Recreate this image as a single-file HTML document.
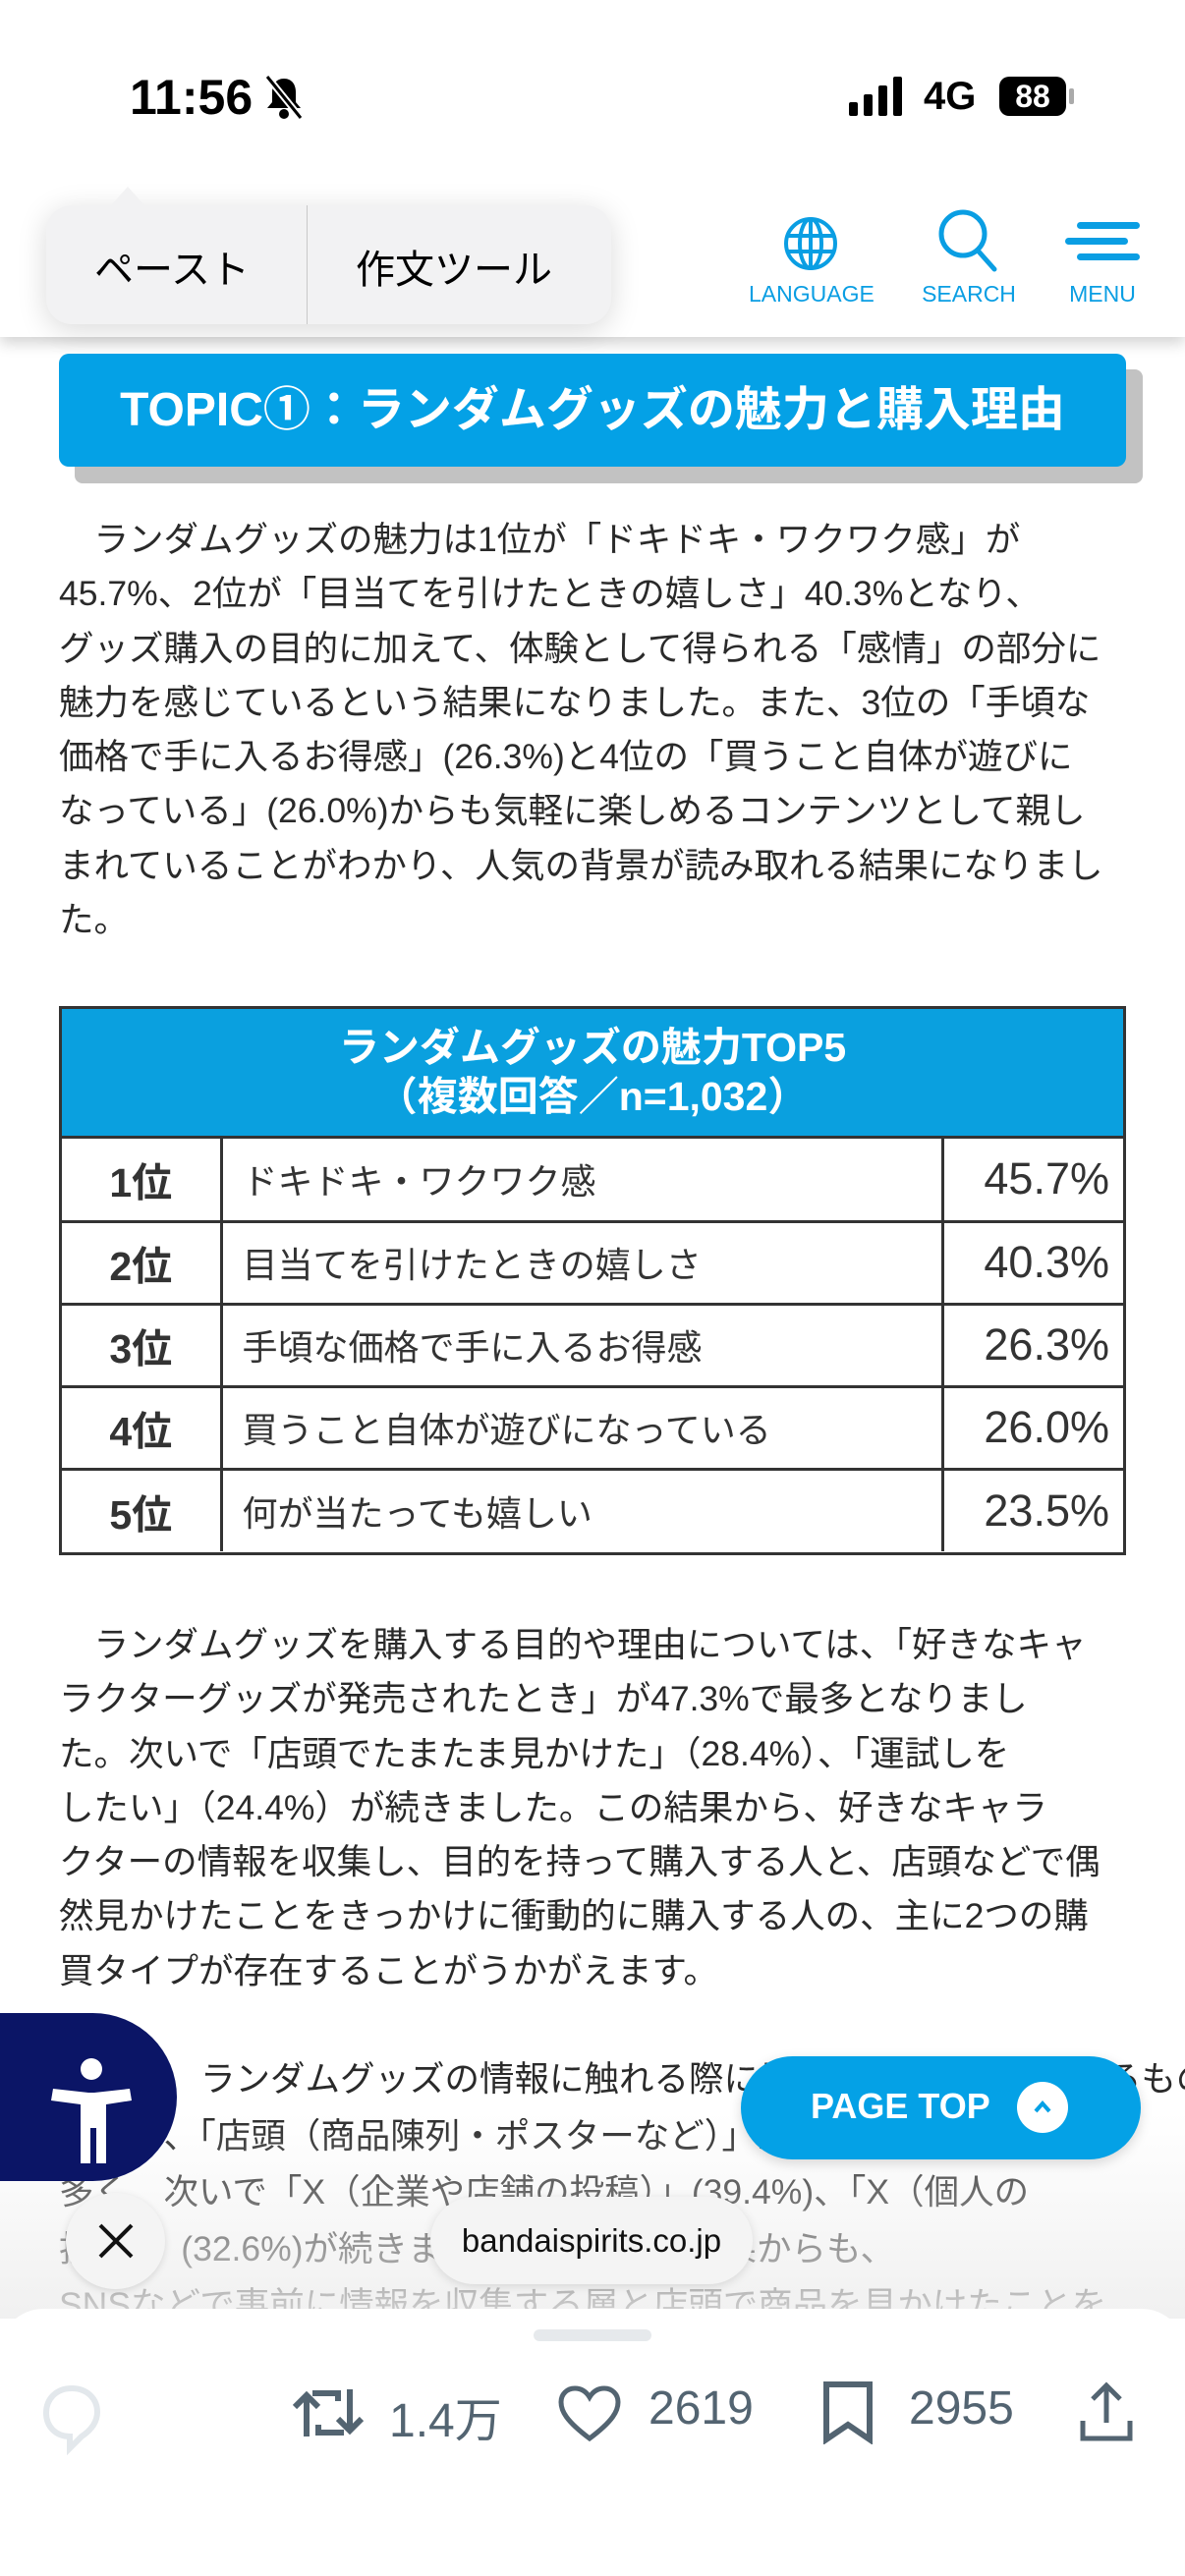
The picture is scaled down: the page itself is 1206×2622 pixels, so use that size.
<!DOCTYPE html>
<html><head><meta charset="utf-8"><style>
*{margin:0;padding:0;box-sizing:border-box}
body{width:1206px;height:2622px;position:relative;overflow:hidden;background:#fff;font-family:"Liberation Sans","Noto Sans CJK JP",sans-serif;color:#222}
.a{position:absolute}
.p{position:absolute;left:60px;font-size:35.5px;line-height:55.3px;color:#2a2a2a;white-space:nowrap}
table{border-collapse:collapse}
</style></head><body>
<!-- header -->
<div class="a" style="left:0;top:0;width:1206px;height:343px;background:#fff;box-shadow:0 6px 14px rgba(0,0,0,0.18)"></div>
<div class="a" style="left:132px;top:70px;font-size:50px;font-weight:bold;color:#000">11:56</div>
<svg class="a" style="left:268px;top:76px" width="42" height="46" viewBox="0 0 42 46"><path d="M21 4c-8 0-12 6-12 14v10l-5 6h34l-5-6V18c0-8-4-14-12-14z" fill="#000"/><circle cx="21" cy="40" r="5" fill="#000"/><line x1="4" y1="2" x2="38" y2="44" stroke="#fff" stroke-width="7"/><line x1="4" y1="2" x2="38" y2="44" stroke="#000" stroke-width="3"/></svg>
<svg class="a" style="left:864px;top:78px" width="60" height="40"><rect x="0" y="26" width="9" height="14" rx="2"/><rect x="15" y="18" width="9" height="22" rx="2"/><rect x="30" y="9" width="9" height="31" rx="2"/><rect x="45" y="0" width="9" height="40" rx="2"/></svg>
<div class="a" style="left:940px;top:76px;font-size:40px;font-weight:bold;color:#000">4G</div>
<div class="a" style="left:1017px;top:78px;width:68px;height:40px;background:#000;border-radius:10px;color:#fff;font-size:32px;font-weight:bold;text-align:center;line-height:40px">88</div>
<div class="a" style="left:1088px;top:90px;width:5px;height:16px;background:#aaa;border-radius:2px"></div>
<!-- popup -->
<div class="a" style="left:47px;top:209px;width:575px;height:121px;background:#f2f2f3;border-radius:26px;box-shadow:0 6px 30px rgba(0,0,0,0.15)"></div>
<div class="a" style="left:110px;top:190px;width:0;height:0;border-left:20px solid transparent;border-right:20px solid transparent;border-bottom:22px solid #f2f2f3"></div>
<div class="a" style="left:312px;top:209px;width:1px;height:121px;background:#c8c8c8"></div>
<div class="a" style="left:96px;top:242px;font-size:40px;color:#000">ペースト</div>
<div class="a" style="left:362px;top:242px;font-size:40px;color:#000">作文ツール</div>
<!-- icons -->
<svg class="a" style="left:797px;top:220px" width="56" height="56" viewBox="0 0 56 56" fill="none" stroke="#0a9ee3" stroke-width="4"><circle cx="28" cy="28" r="25"/><ellipse cx="28" cy="28" rx="11" ry="25"/><line x1="3" y1="20" x2="53" y2="20"/><line x1="3" y1="36" x2="53" y2="36"/><line x1="28" y1="3" x2="28" y2="53"/></svg>
<div class="a" style="left:762px;top:286px;font-size:23px;color:#0a9ee3;width:126px;text-align:center">LANGUAGE</div>
<svg class="a" style="left:954px;top:212px" width="64" height="66" viewBox="0 0 64 66" fill="none" stroke="#0a9ee3" stroke-width="5"><circle cx="26" cy="26" r="22"/><line x1="42" y1="44" x2="58" y2="62" stroke-linecap="round"/></svg>
<div class="a" style="left:932px;top:286px;font-size:23px;color:#0a9ee3;width:108px;text-align:center">SEARCH</div>
<svg class="a" style="left:1084px;top:226px" width="76" height="40"><rect x="12" y="0" width="64" height="7" rx="3.5" fill="#0a9ee3"/><rect x="0" y="16" width="64" height="7" rx="3.5" fill="#0a9ee3"/><rect x="12" y="32" width="64" height="7" rx="3.5" fill="#0a9ee3"/></svg>
<div class="a" style="left:1080px;top:286px;font-size:23px;color:#0a9ee3;width:84px;text-align:center">MENU</div>
<!-- topic banner -->
<div class="a" style="left:76px;top:376px;width:1087px;height:116px;background:#c2c2c2;border-radius:8px"></div>
<div class="a" style="left:60px;top:360px;width:1086px;height:115px;background:#04a1e6;border-radius:10px;color:#fff;font-size:48px;font-weight:bold;text-align:center;line-height:115px">TOPIC①：ランダムグッズの魅力と購入理由</div>
<!-- paragraph 1 -->
<div class="p" style="top:522px">　ランダムグッズの魅力は1位が「ドキドキ・ワクワク感」が<br>45.7%、2位が「目当てを引けたときの嬉しさ」40.3%となり、<br>グッズ購入の目的に加えて、体験として得られる「感情」の部分に<br>魅力を感じているという結果になりました。また、3位の「手頃な<br>価格で手に入るお得感」(26.3%)と4位の「買うこと自体が遊びに<br>なっている」(26.0%)からも気軽に楽しめるコンテンツとして親し<br>まれていることがわかり、人気の背景が読み取れる結果になりまし<br>た。</div>
<!-- table -->
<div class="a" style="left:60px;top:1024px;width:1086px;height:559px;border:3px solid #333;background:#fff">
<div style="height:132px;background:#0aa0df;color:#fff;font-weight:bold;font-size:41px;text-align:center;line-height:50px;padding-top:14px;border-bottom:3px solid #333">ランダムグッズの魅力TOP5<br>（複数回答／n=1,032）</div>
<table style="width:1080px;font-size:36px;color:#333">
<tr style="height:84px"><td style="width:162px;text-align:center;font-weight:bold;font-size:41px;border-right:3px solid #333;border-bottom:3px solid #333">1位</td><td style="padding-left:20px;border-right:3px solid #333;border-bottom:3px solid #333">ドキドキ・ワクワク感</td><td style="text-align:right;padding-right:14px;width:184px;font-size:45px;border-bottom:3px solid #333">45.7%</td></tr>
<tr style="height:84px"><td style="text-align:center;font-weight:bold;font-size:41px;border-right:3px solid #333;border-bottom:3px solid #333">2位</td><td style="padding-left:20px;border-right:3px solid #333;border-bottom:3px solid #333">目当てを引けたときの嬉しさ</td><td style="text-align:right;padding-right:14px;font-size:45px;border-bottom:3px solid #333">40.3%</td></tr>
<tr style="height:84px"><td style="text-align:center;font-weight:bold;font-size:41px;border-right:3px solid #333;border-bottom:3px solid #333">3位</td><td style="padding-left:20px;border-right:3px solid #333;border-bottom:3px solid #333">手頃な価格で手に入るお得感</td><td style="text-align:right;padding-right:14px;font-size:45px;border-bottom:3px solid #333">26.3%</td></tr>
<tr style="height:84px"><td style="text-align:center;font-weight:bold;font-size:41px;border-right:3px solid #333;border-bottom:3px solid #333">4位</td><td style="padding-left:20px;border-right:3px solid #333;border-bottom:3px solid #333">買うこと自体が遊びになっている</td><td style="text-align:right;padding-right:14px;font-size:45px;border-bottom:3px solid #333">26.0%</td></tr>
<tr style="height:84px"><td style="text-align:center;font-weight:bold;font-size:41px;border-right:3px solid #333">5位</td><td style="padding-left:20px;border-right:3px solid #333">何が当たっても嬉しい</td><td style="text-align:right;padding-right:14px;font-size:45px">23.5%</td></tr>
</table></div>
<!-- paragraph 2 -->
<div class="p" style="top:1647px">　ランダムグッズを購入する目的や理由については、「好きなキャ<br>ラクターグッズが発売されたとき」が47.3%で最多となりまし<br>た。次いで「店頭でたまたま見かけた」（28.4%）、「運試しを<br>したい」（24.4%）が続きました。この結果から、好きなキャラ<br>クターの情報を収集し、目的を持って購入する人と、店頭などで偶<br>然見かけたことをきっかけに衝動的に購入する人の、主に2つの購<br>買タイプが存在することがうかがえます。</div>
<!-- paragraph 3 -->
<div class="p" style="top:2088px;line-height:57.5px"><span style="padding-left:144px"></span>ランダムグッズの情報に触れる際に最も多く利用されているもの<br>　　は、「店頭（商品陳列・ポスターなど）」が最も多く、<br>多く、次いで「X（企業や店舗の投稿）」(39.4%)、「X（個人の<br>投稿）」(32.6%)が続きました。こうした結果からも、<br>SNSなどで事前に情報を収集する層と店頭で商品を見かけたことを</div>
<!-- fade -->
<div class="a" style="left:0;top:2150px;width:1206px;height:210px;background:linear-gradient(rgba(255,255,255,0),rgba(238,238,238,0.85))"></div>
<!-- accessibility -->
<div class="a" style="left:-40px;top:2049px;width:220px;height:171px;background:#0b1566;border-radius:0 90px 90px 0"></div>
<svg class="a" style="left:52px;top:2212px" width="1" height="1"></svg>
<svg class="a" style="left:50px;top:2094px" width="86" height="108" viewBox="0 0 86 108"><circle cx="43" cy="12" r="11" fill="#fff"/><path d="M2 44l2-12 36 4h6l36-4 2 12-26 4v60h-10V72h-6v36H32V48z" fill="#fff"/></svg>
<!-- page top -->
<div class="a" style="left:754px;top:2093px;width:407px;height:105px;background:#04a1e6;border-radius:53px;box-shadow:0 4px 12px rgba(0,0,0,0.15)"></div>
<div class="a" style="left:825px;top:2123px;font-size:36px;font-weight:bold;color:#fff">PAGE TOP</div>
<div class="a" style="left:1035px;top:2119px;width:52px;height:52px;background:#fff;border-radius:50%"></div>
<svg class="a" style="left:1049px;top:2133px" width="24" height="24"><polyline points="5,16 12,8 19,16" fill="none" stroke="#04a1e6" stroke-width="4"/></svg>
<!-- X circle -->
<div class="a" style="left:67px;top:2232px;width:101px;height:98px;background:#f4f4f4;border-radius:50%;box-shadow:0 2px 8px rgba(0,0,0,0.12)"></div>
<svg class="a" style="left:99px;top:2262px" width="38" height="38"><path d="M3 3L35 35M35 3L3 35" stroke="#111" stroke-width="4"/></svg>
<div class="a" style="left:438px;top:2236px;width:328px;height:89px;background:#f4f4f4;border-radius:45px;box-shadow:0 2px 10px rgba(0,0,0,0.12);font-size:33px;color:#111;text-align:center;line-height:89px">bandaispirits.co.jp</div>
<!-- bottom sheet -->
<div class="a" style="left:0;top:2350px;width:1206px;height:272px;background:#fff;border-radius:44px 44px 0 0"></div>
<div class="a" style="left:543px;top:2371px;width:120px;height:12px;background:#e6e9ec;border-radius:6px"></div>
<svg class="a" style="left:42px;top:2427px" width="62" height="72" viewBox="0 0 62 72"><path d="M31 4C15 4 5 15 5 29c0 14 10 24 24 24v12l12-12c9-6 16-14 16-25C57 15 47 4 31 4z" fill="none" stroke="#e3e8ec" stroke-width="6"/></svg>
<svg class="a" style="left:298px;top:2428px" width="72" height="56" viewBox="0 0 72 56" fill="none" stroke="#536471" stroke-width="6"><path d="M14 52V12M2 22l12-12 12 12M20 8h26v8"/><path d="M58 4v40M46 34l12 12 12-12M52 48H26v-8"/></svg>
<div class="a" style="left:396px;top:2424px;font-size:48px;color:#536471">1.4万</div>
<svg class="a" style="left:568px;top:2428px" width="64" height="58" viewBox="0 0 64 58"><path d="M32 54C8 36 3 26 3 17 3 9 9 3 17 3c7 0 12 4 15 9 3-5 8-9 15-9 8 0 14 6 14 14 0 9-5 19-29 37z" fill="none" stroke="#536471" stroke-width="5"/></svg>
<div class="a" style="left:660px;top:2424px;font-size:48px;color:#536471">2619</div>
<svg class="a" style="left:836px;top:2424px" width="54" height="64" viewBox="0 0 54 64"><path d="M5 3h44v56L27 44 5 59z" fill="none" stroke="#536471" stroke-width="6"/></svg>
<div class="a" style="left:925px;top:2424px;font-size:48px;color:#536471">2955</div>
<svg class="a" style="left:1098px;top:2424px" width="56" height="62" viewBox="0 0 56 62" fill="none" stroke="#536471" stroke-width="5"><path d="M28 4v38M14 18L28 4l14 14M4 40v18h48V40"/></svg>
</body></html>
